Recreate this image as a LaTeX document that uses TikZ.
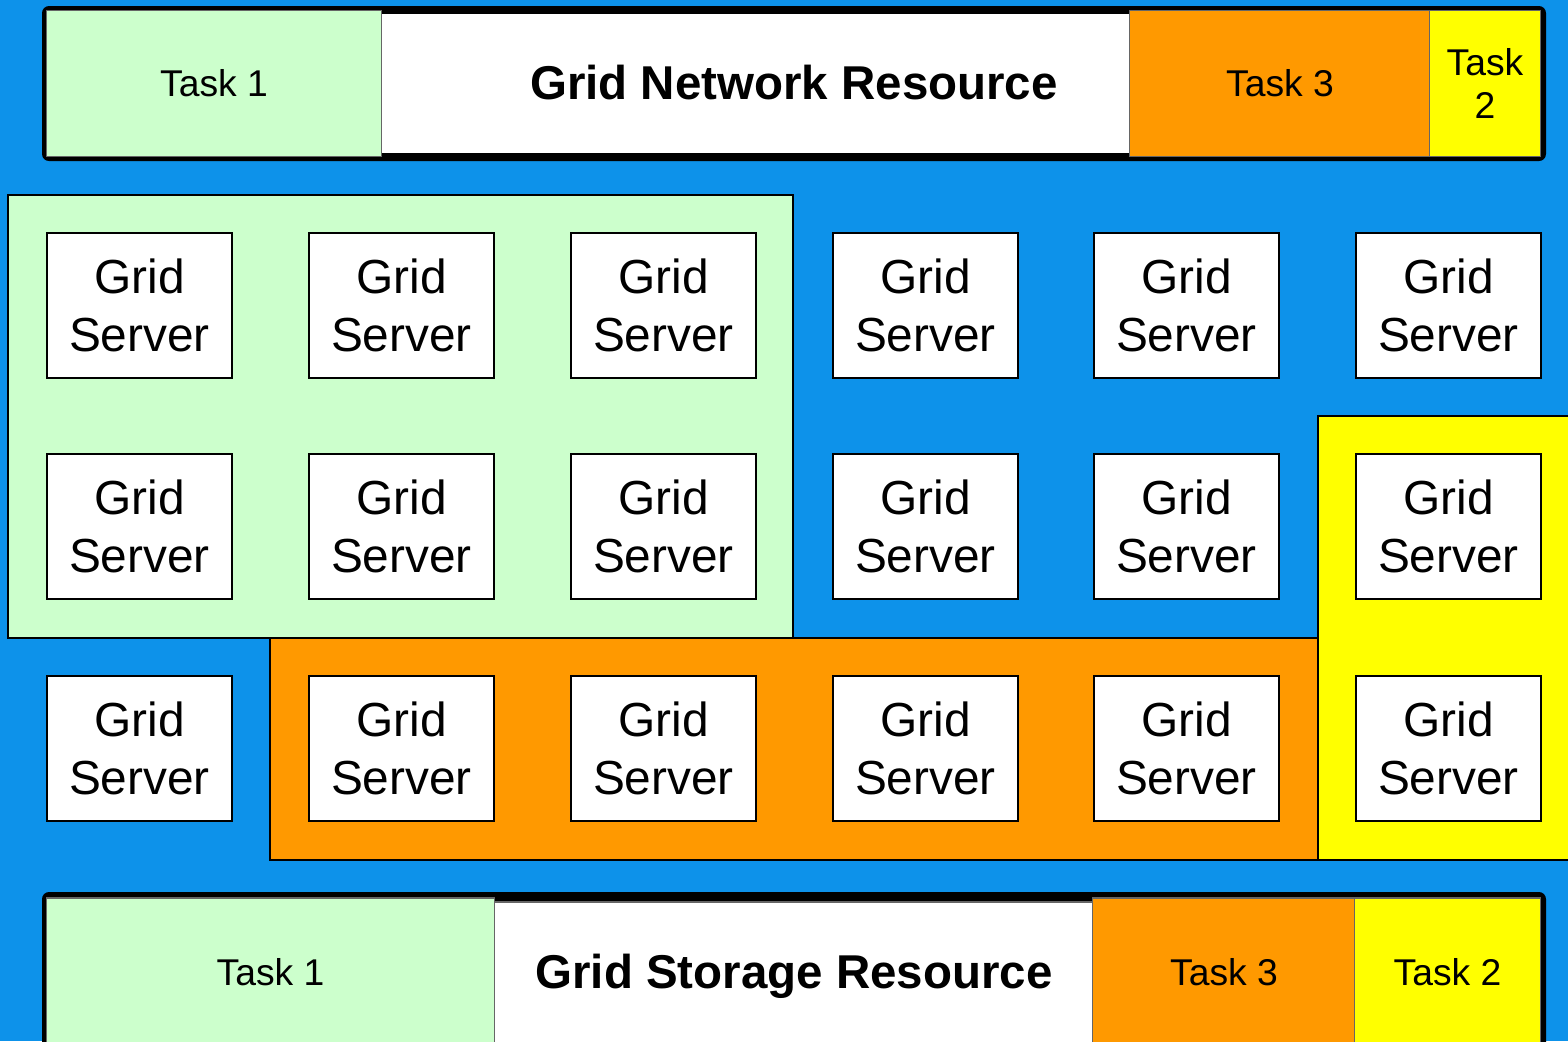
\documentclass[tikz,border=0pt]{standalone}
\usepackage{fontspec}
\setmainfont{Liberation Sans}
\usepackage{xcolor}
\definecolor{gridblue}{RGB}{13,146,234}
\definecolor{taskgreen}{RGB}{204,255,204}
\definecolor{taskorange}{RGB}{255,153,0}
\definecolor{taskyellow}{RGB}{255,255,0}

\begin{document}
\begin{tikzpicture}[x=0.01cm,y=-0.01cm,
		server/.style={rectangle,fill=white,draw=black,line width=0.8pt,minimum width=1.85cm,minimum height=1.45cm,inner sep=0pt,align=center,font=\fontsize{13.6}{16.3}\selectfont},
		cell/.style={rectangle,draw=black!60,line width=0.3pt,inner sep=0pt,align=center,font=\fontsize{10.6}{12.5}\selectfont},
		title/.style={font=\fontsize{13.5}{16.2}\selectfont\bfseries},
		region/.style={draw=black,line width=0.3pt},
		frame/.style={fill=black,rounded corners=2pt}]
				\useasboundingbox (0,0) rectangle (1568,1041);
				\clip (0,0) rectangle (1568,1041);
				\fill[gridblue] (0,0) rectangle (1568,1041);
				
				% task areas
				\draw[region,fill=taskyellow] (1318,416) rectangle (1575,860);
				\draw[region,fill=taskorange] (270,638) rectangle (1318,860);
				\draw[region,fill=taskgreen] (8,195) rectangle (793,638);
				
				% network resource
				\path[frame] (42,6) rectangle (1546,161);
				\node(n1) at (214,83.5)[cell,fill=taskgreen,minimum width=3.34cm,minimum height=1.45cm]{Task 1};
				\node(nw) at (756,83.5)[cell,draw=none,fill=white,minimum width=7.48cm,minimum height=1.39cm]{};
				\node(n3) at (1280,83.5)[cell,fill=taskorange,minimum width=3cm,minimum height=1.45cm]{Task 3};
				\node(n2) at (1485,83.5)[cell,fill=taskyellow,minimum width=1.1cm,minimum height=1.45cm]{Task\\2};
				\node(net) at (794,83)[title]{Grid Network Resource};
				
				% servers
				\node(s11) at (139.5,305.5)[server]{Grid\\Server};
				\node(s12) at (401.5,305.5)[server]{Grid\\Server};
				\node(s13) at (663.5,305.5)[server]{Grid\\Server};
				\node(s14) at (925.5,305.5)[server]{Grid\\Server};
				\node(s15) at (1186.5,305.5)[server]{Grid\\Server};
				\node(s16) at (1448.5,305.5)[server]{Grid\\Server};
				\node(s21) at (139.5,526.5)[server]{Grid\\Server};
				\node(s22) at (401.5,526.5)[server]{Grid\\Server};
				\node(s23) at (663.5,526.5)[server]{Grid\\Server};
				\node(s24) at (925.5,526.5)[server]{Grid\\Server};
				\node(s25) at (1186.5,526.5)[server]{Grid\\Server};
				\node(s26) at (1448.5,526.5)[server]{Grid\\Server};
				\node(s31) at (139.5,748.5)[server]{Grid\\Server};
				\node(s32) at (401.5,748.5)[server]{Grid\\Server};
				\node(s33) at (663.5,748.5)[server]{Grid\\Server};
				\node(s34) at (925.5,748.5)[server]{Grid\\Server};
				\node(s35) at (1186.5,748.5)[server]{Grid\\Server};
				\node(s36) at (1448.5,748.5)[server]{Grid\\Server};
				
				% storage resource
				\path[frame] (42,892) rectangle (1546,1060);
				\node(t1) at (270.5,972)[cell,fill=taskgreen,minimum width=4.47cm,minimum height=1.48cm]{Task 1};
				\node(sto) at (794,976)[cell,fill=white,minimum width=5.98cm,minimum height=1.48cm,title]{Grid Storage Resource};
				\node(t3) at (1224,972)[cell,fill=taskorange,minimum width=2.62cm,minimum height=1.48cm]{Task 3};
				\node(t2) at (1447.5,972)[cell,fill=taskyellow,minimum width=1.85cm,minimum height=1.48cm]{Task 2};
				
			\end{tikzpicture}
\end{document}
